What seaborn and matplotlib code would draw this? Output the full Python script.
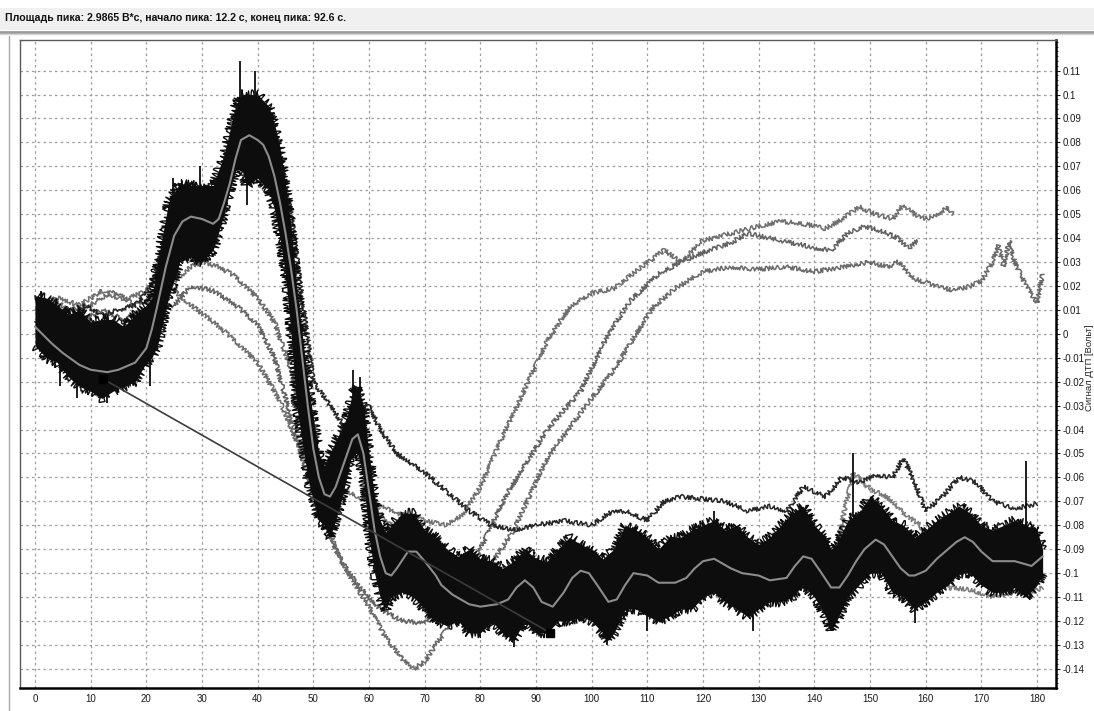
import numpy as np
import pandas as pd
import matplotlib
matplotlib.use("Agg")
import matplotlib.pyplot as plt
import seaborn as sns
from matplotlib.ticker import AutoMinorLocator, FuncFormatter
from matplotlib.patches import Rectangle
from matplotlib.lines import Line2D

sns.set_style("white")
plt.rcParams["font.family"] = ["Liberation Sans", "DejaVu Sans"]

TITLE = "Площадь пика: 2.9865 В*с, начало пика: 12.2 с, конец пика: 92.6 с."
YLABEL = "Сигнал ДТП [Вольт]"

# black noisy trace: envelope
black_t = [0, 2, 4, 6, 8, 10, 12, 14, 16, 18, 20, 21, 22, 23, 24, 26, 28, 30,
           32, 34, 35, 36, 37, 38, 40, 42, 43, 44, 45, 46, 47, 48, 49, 50, 51,
           52, 53, 54, 55, 56, 57, 58, 59, 60, 61, 62, 63, 64, 66, 68, 70, 72,
           74, 76, 78, 80, 82, 84, 86, 88, 90, 92, 94, 96, 98, 100, 102, 103,
           104, 106, 108, 110, 112, 114, 116, 118, 120, 122, 124, 126, 128,
           130, 132, 134, 136, 138, 140, 142, 143, 144, 146, 148, 150, 152,
           154, 156, 158, 160, 162, 164, 166, 168, 170, 172, 174, 176, 178,
           180, 181]
black_hi = [0.016, 0.015, 0.012, 0.008, 0.010, 0.005, 0.006, 0.006, 0.003,
            0.008, 0.012, 0.015, 0.030, 0.042, 0.055, 0.063, 0.062, 0.062,
            0.062, 0.075, 0.085, 0.095, 0.100, 0.100, 0.100, 0.095, 0.088,
            0.078, 0.062, 0.045, 0.020, 0.000, -0.020, -0.035, -0.050, -0.055,
            -0.050, -0.045, -0.040, -0.035, -0.025, -0.022, -0.030, -0.050,
            -0.068, -0.078, -0.083, -0.080, -0.075, -0.075, -0.082, -0.085,
            -0.090, -0.093, -0.090, -0.094, -0.095, -0.098, -0.095, -0.090,
            -0.094, -0.095, -0.090, -0.085, -0.088, -0.090, -0.094, -0.092,
            -0.090, -0.080, -0.082, -0.085, -0.090, -0.085, -0.085, -0.082,
            -0.080, -0.078, -0.082, -0.080, -0.085, -0.088, -0.085, -0.080,
            -0.075, -0.072, -0.080, -0.085, -0.090, -0.088, -0.078, -0.075,
            -0.068, -0.072, -0.078, -0.080, -0.085, -0.082, -0.078, -0.075,
            -0.072, -0.075, -0.080, -0.082, -0.080, -0.078, -0.080, -0.082,
            -0.090]
black_lo = [-0.005, -0.010, -0.012, -0.018, -0.022, -0.024, -0.027, -0.024,
            -0.022, -0.020, -0.012, -0.010, -0.005, 0.005, 0.015, 0.030,
            0.032, 0.030, 0.035, 0.050, 0.060, 0.068, 0.070, 0.062, 0.065,
            0.060, 0.052, 0.040, 0.025, 0.000, -0.030, -0.045, -0.060, -0.070,
            -0.078, -0.080, -0.085, -0.078, -0.070, -0.060, -0.050, -0.050,
            -0.060, -0.085, -0.100, -0.110, -0.115, -0.110, -0.108, -0.110,
            -0.115, -0.120, -0.122, -0.120, -0.125, -0.125, -0.120, -0.125,
            -0.128, -0.120, -0.125, -0.125, -0.120, -0.120, -0.118, -0.120,
            -0.125, -0.128, -0.125, -0.115, -0.115, -0.118, -0.120, -0.118,
            -0.115, -0.115, -0.110, -0.108, -0.112, -0.115, -0.118, -0.115,
            -0.112, -0.112, -0.110, -0.105, -0.110, -0.118, -0.124, -0.120,
            -0.110, -0.105, -0.100, -0.100, -0.108, -0.110, -0.115, -0.112,
            -0.108, -0.105, -0.100, -0.100, -0.105, -0.108, -0.108, -0.106,
            -0.110, -0.105, -0.100]

# single spikes sticking out of the black band: time, from, to
spike_t = [1, 4.5, 7.5, 12.9, 20.6, 24.8, 29.6, 36.8, 38.0, 39.5, 57.2, 58.4,
           62.6, 86.0, 102.7, 110.0, 122.0, 129.0, 143.0, 147.0, 158.0, 178.0]
spike_a = [0.005, -0.010, -0.015, -0.015, -0.005, 0.045, 0.048, 0.085, 0.075,
           0.085, -0.040, -0.040, -0.095, -0.110, -0.110, -0.100, -0.090,
           -0.100, -0.105, -0.075, -0.100, -0.080]
spike_b = [0.018, -0.022, -0.027, -0.029, -0.022, 0.065, 0.070, 0.114, 0.054,
           0.110, -0.015, -0.018, -0.112, -0.131, -0.130, -0.124, -0.074,
           -0.124, -0.124, -0.050, -0.121, -0.053]

# smoothed grey curve over the black trace
smooth_t = [0, 3, 5, 8, 10, 13, 15, 18, 20, 21, 22, 23.5, 25, 26.5, 28, 30,
            32, 33, 34, 35, 36, 37, 38.5, 40, 41, 42, 43, 44, 45, 46, 47, 48,
            49, 50, 51, 52, 53, 54, 55.5, 57, 58, 59, 60, 61, 62, 63, 64, 65,
            67, 68.5, 70, 72, 73, 75, 78, 80, 83, 85, 86.5, 88, 89.5, 91,
            93, 95, 96.5, 98, 99.5, 101, 103, 104.5, 106, 107.5, 110, 112, 115,
            117, 118.5, 120, 122, 123.5, 125, 127, 130, 132, 135, 136.5, 138,
            139.5, 141, 143, 144.5, 146, 147.5, 149, 151, 152.5, 154, 155.5,
            157, 158, 160, 162, 164, 165.5, 167, 168.5, 170, 172, 176, 179,
            181]
smooth_v = [0.003, -0.004, -0.008, -0.013, -0.015, -0.016, -0.015, -0.012,
            -0.006, 0.002, 0.012, 0.028, 0.041, 0.047, 0.049, 0.048, 0.046,
            0.048, 0.055, 0.063, 0.073, 0.081, 0.083, 0.081, 0.079, 0.074,
            0.066, 0.055, 0.042, 0.027, 0.010, -0.010, -0.030, -0.048, -0.060,
            -0.067, -0.068, -0.064, -0.054, -0.044, -0.042, -0.050, -0.066,
            -0.082, -0.093, -0.100, -0.101, -0.098, -0.091, -0.091, -0.095,
            -0.101, -0.105, -0.109, -0.113, -0.114, -0.113, -0.111, -0.106,
            -0.103, -0.106, -0.112, -0.114, -0.108, -0.102, -0.099, -0.100,
            -0.105, -0.112, -0.111, -0.105, -0.100, -0.101, -0.104, -0.104,
            -0.102, -0.098, -0.095, -0.094, -0.096, -0.098, -0.100, -0.101,
            -0.103, -0.102, -0.097, -0.093, -0.094, -0.099, -0.106, -0.106,
            -0.101, -0.095, -0.090, -0.086, -0.088, -0.093, -0.098, -0.101,
            -0.101, -0.099, -0.094, -0.090, -0.087, -0.085, -0.087, -0.091,
            -0.095, -0.095, -0.097, -0.093]

# thin traces
d_t = [0, 3, 6, 9, 12, 15, 18, 21, 24, 27, 30, 33, 36, 39, 42, 44, 46, 48,
       50, 53, 56, 58, 60, 62, 65, 68, 70, 74, 78, 82, 86, 90, 95, 100, 103,
       106, 110, 113, 116, 120, 124, 128, 132, 135, 138, 142, 145, 148, 151,
       154, 156, 158, 160, 163, 166, 169, 172, 176, 180]
d_v = [0.005, 0.010, 0.006, 0.012, 0.008, 0.010, 0.012, 0.020, 0.045, 0.055,
       0.060, 0.065, 0.080, 0.095, 0.090, 0.075, 0.050, 0.015, -0.020,
       -0.030, -0.040, -0.035, -0.030, -0.040, -0.050, -0.055, -0.058,
       -0.066, -0.074, -0.080, -0.082, -0.080, -0.078, -0.080, -0.075,
       -0.074, -0.078, -0.070, -0.068, -0.069, -0.070, -0.074, -0.072,
       -0.074, -0.064, -0.068, -0.060, -0.062, -0.059, -0.060, -0.052,
       -0.062, -0.074, -0.068, -0.060, -0.062, -0.070, -0.073, -0.071]

g1_t = [0, 3, 6, 10, 14, 18, 22, 25, 28, 30, 33, 36, 40, 43, 46, 48, 50, 52,
        54, 57, 60, 63, 66, 68, 70, 72, 75, 80, 86, 92, 98, 104, 108, 111,
        115, 120, 125, 130, 135, 140, 145, 150, 153, 155, 158, 162, 165, 168,
        170, 172, 173, 174, 175, 176, 178, 180, 181]
g1_v = [0.005, 0.015, 0.010, 0.012, 0.018, 0.012, 0.015, 0.022, 0.028, 0.030,
        0.028, 0.024, 0.015, 0.005, -0.015, -0.035, -0.055, -0.075, -0.090,
        -0.103, -0.114, -0.127, -0.136, -0.140, -0.137, -0.130, -0.120,
        -0.103, -0.082, -0.052, -0.033, -0.015, 0.000, 0.011, 0.019, 0.026,
        0.028, 0.027, 0.028, 0.026, 0.028, 0.030, 0.028, 0.030, 0.023,
        0.020, 0.018, 0.020, 0.022, 0.030, 0.037, 0.028, 0.039, 0.030,
        0.020, 0.013, 0.025]

g2_t = [0, 4, 8, 12, 16, 20, 25, 28, 32, 36, 40, 43, 46, 49, 52, 55, 58, 62,
        66, 70, 74, 78, 82, 85, 88, 92, 98, 103, 107, 112, 116, 120, 125, 128,
        132, 136, 140, 143, 146, 149, 152, 155, 157, 158.5]
g2_v = [0.000, 0.008, 0.005, 0.010, 0.006, 0.010, 0.012, 0.020, 0.018, 0.012,
        0.004, -0.010, -0.035, -0.060, -0.080, -0.095, -0.105, -0.115, -0.120,
        -0.121, -0.113, -0.100, -0.080, -0.066, -0.055, -0.040, -0.024, 0.000,
        0.014, 0.025, 0.030, 0.034, 0.038, 0.042, 0.040, 0.038, 0.036, 0.035,
        0.042, 0.045, 0.043, 0.040, 0.036, 0.039]

g3_t = [0, 4, 8, 12, 16, 20, 22, 25, 28, 32, 36, 40, 44, 47, 50, 55, 60, 65,
        70, 74, 77, 80, 83, 86, 89, 92, 96, 100, 104, 109, 113, 116, 120, 125,
        130, 134, 138, 142, 145, 148, 151, 154, 156, 158, 160, 162, 164, 165]
g3_v = [0.010, 0.015, 0.012, 0.018, 0.014, 0.018, 0.025, 0.018, 0.012, 0.005,
        -0.003, -0.012, -0.028, -0.045, -0.058, -0.065, -0.070, -0.075,
        -0.078, -0.080, -0.075, -0.064, -0.048, -0.033, -0.018, -0.003,
        0.011, 0.017, 0.019, 0.028, 0.035, 0.030, 0.039, 0.042, 0.045, 0.047,
        0.046, 0.044, 0.048, 0.053, 0.050, 0.048, 0.054, 0.050, 0.048, 0.050,
        0.053, 0.050]

e_t = [55, 58, 62, 66, 70, 75, 80, 85, 88, 91, 95, 100, 105, 110, 115, 120,
       124, 128, 132, 136, 140, 143, 145, 147, 150, 153, 156, 159, 162, 164,
       168, 172, 176, 179, 181]
e_v = [-0.040, -0.050, -0.075, -0.085, -0.090, -0.095, -0.100, -0.105, -0.112,
       -0.118, -0.110, -0.100, -0.095, -0.090, -0.100, -0.105, -0.100, -0.090,
       -0.100, -0.105, -0.108, -0.100, -0.078, -0.058, -0.065, -0.068, -0.075,
       -0.080, -0.092, -0.106, -0.107, -0.110, -0.108, -0.108, -0.106]

# straight baseline between peak start and end
base_t = [12.2, 92.6]
base_v = [-0.0188, -0.1250]

y_ticks = np.round(np.arange(-0.14, 0.1101, 0.01), 2)
x_ticks = np.arange(0, 181, 10)

W, H = 1094, 711
fig = plt.figure(figsize=(W / 100, H / 100), dpi=100)
fig.patch.set_facecolor("white")

# window header bar
fig.patches.append(Rectangle((0, 1 - 30 / H), 1, 22 / H, transform=fig.transFigure,
                             facecolor="#f0f0f0", edgecolor="none", zorder=0))
fig.lines.append(Line2D([0, 1], [1 - 31.5 / H] * 2, transform=fig.transFigure,
                        color="#9a9a9a", lw=2))
fig.lines.append(Line2D([0, 1], [1 - 34 / H] * 2, transform=fig.transFigure,
                        color="#d4d4d4", lw=1))
fig.lines.append(Line2D([8.5 / W] * 2, [0, 1 - 36 / H], transform=fig.transFigure,
                        color="#a8a8a8", lw=1))
fig.text(5 / W, 1 - 18 / H, TITLE, fontsize=7.6, fontweight="bold",
         va="center", ha="left", color="#111111")

ax = fig.add_axes([20 / W, 23 / H, (1056 - 20) / W, (688 - 40) / H])
ax.set_xlim(-2.69, 183.4)
ax.set_ylim(-0.148, 0.1228)

ax.grid(True, which="major", color="#9c9c9c", linestyle=(0, (2, 2.6)), lw=0.9)
ax.set_axisbelow(True)

sketch_thin = (2.2, 2.5, 3)

thin = [(g3_t, g3_v, "#6e6e6e"), (g2_t, g2_v, "#626262"),
        (g1_t, g1_v, "#6a6a6a"), (e_t, e_v, "#7a7a7a"), (d_t, d_v, "#262626")]
for tt, vv, col in thin:
    df = pd.DataFrame({"t": tt, "v": vv})
    sns.lineplot(data=df, x="t", y="v", ax=ax, color=col, lw=1.1,
                 estimator=None, sort=False, zorder=3)
    ax.lines[-1].set_sketch_params(*sketch_thin)

# black band
ax.fill_between(black_t, black_lo, black_hi, color="#0d0d0d", lw=0, zorder=4)
for edge in (black_hi, black_lo):
    sns.lineplot(x=black_t, y=edge, ax=ax, color="#0d0d0d", lw=1.0,
                 estimator=None, sort=False, zorder=4)
    ax.lines[-1].set_sketch_params(5.0, 1.5, 6)
ax.vlines(spike_t, spike_a, spike_b, color="#0d0d0d", lw=1.3, zorder=4)

sns.lineplot(x=smooth_t, y=smooth_v, ax=ax, color="#8c8c8c", lw=1.5,
             estimator=None, sort=False, zorder=5)

# baseline with end markers
sns.lineplot(x=base_t, y=base_v, ax=ax, color="#3c3c3c", lw=1.2,
             estimator=None, zorder=6)
ax.plot(base_t, base_v, ls="none", marker="s", ms=6, color="black", zorder=7)

# axes frame
for side in ("top", "left"):
    ax.spines[side].set_color("#5a5a5a")
    ax.spines[side].set_linewidth(1.0)
for side in ("right", "bottom"):
    ax.spines[side].set_color("black")
    ax.spines[side].set_linewidth(1.8)

ax.yaxis.tick_right()
ax.set_yticks(y_ticks)
ax.yaxis.set_major_formatter(
    FuncFormatter(lambda v, p: f"{round(v, 2):g}" if abs(v) > 1e-9 else "0"))
ax.set_xticks(x_ticks)
ax.xaxis.set_minor_locator(AutoMinorLocator(5))
ax.yaxis.set_minor_locator(AutoMinorLocator(5))
ax.tick_params(axis="both", which="major", direction="out", length=3,
               width=0.8, labelsize=7.0, colors="#1a1a1a", pad=1.5)
ax.tick_params(axis="both", which="minor", direction="out", length=1.6,
               width=0.6, colors="#1a1a1a")
ax.tick_params(axis="y", which="both", left=False, right=True)
ax.set_xlabel("")
ax.set_ylabel("")

fig.text(1085 / W, 1 - 368 / H, YLABEL, rotation=90, ha="left", va="center",
         fontsize=6.8, color="#222222")

fig.savefig("out.png", dpi=100, facecolor="white")
